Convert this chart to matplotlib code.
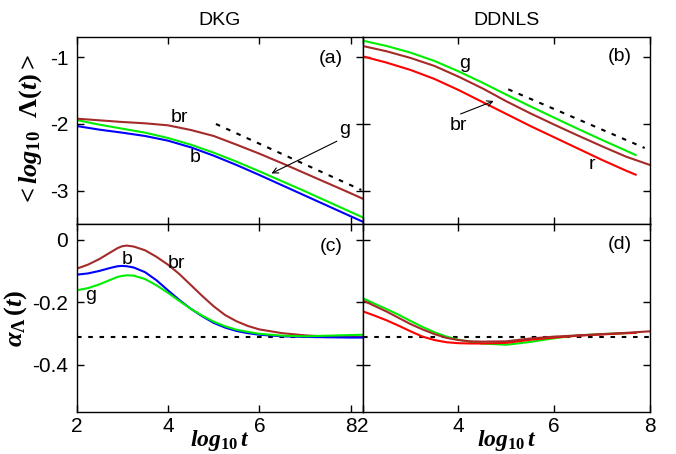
import numpy as np
import matplotlib
matplotlib.use("Agg")
from matplotlib import pyplot as plt

plt.rcParams['font.family'] = ['Liberation Sans', 'DejaVu Sans']
plt.rcParams['mathtext.fontset'] = 'custom'
plt.rcParams['mathtext.rm'] = 'Liberation Serif:bold'
plt.rcParams['mathtext.it'] = 'Liberation Serif:italic:bold'
plt.rcParams['mathtext.bf'] = 'Liberation Serif:bold'

# colours of the curves
c_br = "#a52a2a"
c_g = "#00ee00"
c_b = "#0000ff"
c_r = "#ff0000"

# ---- panel (a): DKG, <log10 Lambda(t)>
xa = [2.0, 2.5, 3.0, 3.5, 4.0, 4.5, 5.0, 5.5, 6.0, 6.5, 7.0, 7.5, 8.0, 8.26]
a_br = [-1.92, -1.945, -1.97, -1.99, -2.02, -2.09, -2.18, -2.31, -2.445, -2.59, -2.74, -2.89, -3.04, -3.12]
a_g = [-1.94, -2.01, -2.07, -2.13, -2.21, -2.31, -2.43, -2.565, -2.71, -2.86, -3.01, -3.165, -3.32, -3.40]
a_b = [-2.03, -2.085, -2.13, -2.18, -2.25, -2.35, -2.475, -2.615, -2.765, -2.92, -3.075, -3.23, -3.385, -3.465]
a_ref_x = [5.05, 8.23]
a_ref_y = [-2.0, -2.99]

# ---- panel (b): DDNLS, <log10 Lambda(t)>
xb = [2.0, 2.5, 3.0, 3.5, 4.0, 4.5, 5.0, 5.5, 6.0, 6.5, 7.0, 7.5, 7.7]
b_g = [-0.75, -0.83, -0.93, -1.055, -1.21, -1.38, -1.56, -1.735, -1.905, -2.075, -2.24, -2.40, -2.465]
b_r = [-0.985, -1.08, -1.19, -1.325, -1.49, -1.67, -1.85, -2.03, -2.20, -2.37, -2.54, -2.70, -2.76]
xb_br = [2.0, 2.5, 3.0, 3.5, 4.0, 4.5, 5.0, 5.5, 6.0, 6.5, 7.0, 7.5, 8.0]
b_br = [-0.83, -0.91, -1.01, -1.13, -1.29, -1.465, -1.66, -1.84, -2.01, -2.175, -2.335, -2.49, -2.615]
b_ref_x = [5.04, 7.89]
b_ref_y = [-1.48, -2.36]

# ---- panel (c): DKG, alpha_Lambda(t)
xc = [2.0, 2.25, 2.5, 2.75, 2.9, 3.0, 3.1, 3.25, 3.5, 3.75, 4.0, 4.25, 4.5, 4.75, 5.0, 5.25, 5.5,
      5.75, 6.0, 6.5, 7.0, 7.5, 8.0, 8.26]
c_brv = [-0.093, -0.080, -0.062, -0.040, -0.027, -0.021, -0.019, -0.022, -0.034, -0.055, -0.080,
         -0.110, -0.145, -0.180, -0.213, -0.241, -0.261, -0.276, -0.287, -0.299, -0.306, -0.310,
         -0.311, -0.311]
c_bv = [-0.112, -0.108, -0.100, -0.090, -0.085, -0.084, -0.085, -0.089, -0.104, -0.130, -0.162,
        -0.193, -0.221, -0.245, -0.266, -0.281, -0.292, -0.299, -0.304, -0.309, -0.311, -0.312,
        -0.313, -0.313]
c_gv = [-0.162, -0.155, -0.143, -0.128, -0.119, -0.116, -0.114, -0.115, -0.126, -0.146, -0.170,
        -0.196, -0.221, -0.243, -0.262, -0.277, -0.288, -0.295, -0.301, -0.307, -0.309, -0.307,
        -0.305, -0.304]
alpha_ref = -0.31

# ---- panel (d): DDNLS, alpha_Lambda(t)
xd = [2.0, 2.25, 2.5, 2.75, 3.0, 3.25, 3.5, 3.75, 4.0, 4.25, 4.5, 5.0, 5.5, 6.0, 6.5, 7.0, 7.5, 7.7]
d_g = [-0.187, -0.205, -0.222, -0.240, -0.260, -0.279, -0.296, -0.310, -0.320, -0.327, -0.332,
       -0.336, -0.327, -0.315, -0.306, -0.302, -0.299, -0.298]
d_r = [-0.229, -0.243, -0.258, -0.275, -0.293, -0.310, -0.321, -0.328, -0.331, -0.332, -0.332,
       -0.330, -0.320, -0.313, -0.307, -0.303, -0.299, -0.298]
xd_br = [2.0, 2.25, 2.5, 2.75, 3.0, 3.25, 3.5, 3.75, 4.0, 4.25, 4.5, 5.0, 5.5, 6.0, 6.5, 7.0, 7.5, 8.0]
d_br = [-0.194, -0.212, -0.230, -0.250, -0.270, -0.287, -0.302, -0.314, -0.321, -0.325, -0.326,
        -0.325, -0.316, -0.310, -0.306, -0.302, -0.298, -0.293]

xticks = [2, 4, 6, 8]
xticklabels = ["2", "4", "6", "8"]
top_yticks = [-1, -2, -3]
top_yticklabels = ["-1", "-2", "-3"]
bot_yticks = [0, -0.2, -0.4]
bot_yticklabels = ["0", "-0.2", "-0.4"]

fig = plt.figure(figsize=(6.76, 4.54), dpi=100)
W, H = 676., 454.
xl0, xl1, xr1 = 76.5, 362.7, 650.
yt0, ym, yb1 = 37.3, 224., 411.7
ax_a = fig.add_axes([xl0/W, 1-ym/H, (xl1-xl0)/W, (ym-yt0)/H])
ax_b = fig.add_axes([xl1/W, 1-ym/H, (xr1-xl1)/W, (ym-yt0)/H])
ax_c = fig.add_axes([xl0/W, 1-yb1/H, (xl1-xl0)/W, (yb1-ym)/H])
ax_d = fig.add_axes([xl1/W, 1-yb1/H, (xr1-xl1)/W, (yb1-ym)/H])

lw = 1.5
dots = (0, (2.2, 3.2))

ax_a.plot(xa, a_b, color=c_b, lw=lw)
ax_a.plot(xa, a_g, color=c_g, lw=lw)
ax_a.plot(xa, a_br, color=c_br, lw=lw)
ax_a.plot(a_ref_x, a_ref_y, color="k", lw=lw, ls=dots)

ax_b.plot(xb, b_r, color=c_r, lw=lw)
ax_b.plot(xb_br, b_br, color=c_br, lw=lw)
ax_b.plot(xb, b_g, color=c_g, lw=lw)
ax_b.plot(b_ref_x, b_ref_y, color="k", lw=lw, ls=dots)

ax_c.axhline(alpha_ref, color="k", lw=lw, ls=dots)
ax_c.plot(xc, c_brv, color=c_br, lw=lw)
ax_c.plot(xc, c_bv, color=c_b, lw=lw)
ax_c.plot(xc, c_gv, color=c_g, lw=lw)

ax_d.axhline(alpha_ref, color="k", lw=lw, ls=dots)
ax_d.plot(xd, d_g, color=c_g, lw=lw)
ax_d.plot(xd, d_r, color=c_r, lw=lw)
ax_d.plot(xd_br, d_br, color=c_br, lw=lw)

for ax in (ax_a, ax_c):
    ax.set_xlim(2, 8.26)
for ax in (ax_b, ax_d):
    ax.set_xlim(2, 8)
for ax in (ax_a, ax_b):
    ax.set_ylim(-3.5, -0.7)
    ax.set_yticks(top_yticks)
for ax in (ax_c, ax_d):
    ax.set_ylim(-0.55, 0.05)
    ax.set_yticks(bot_yticks)

for ax in (ax_a, ax_b, ax_c, ax_d):
    ax.set_xticks(xticks)
    ax.tick_params(direction="in", top=True, right=True, length=5, width=1.0,
                   labelsize=15, pad=6)
    for s in ax.spines.values():
        s.set_linewidth(1.0)

ax_a.set_yticklabels(top_yticklabels)
ax_c.set_yticklabels(bot_yticklabels)
ax_a.set_xticklabels([])
ax_b.set_xticklabels([])
ax_b.set_yticklabels([])
ax_d.set_yticklabels([])
ax_c.set_xticklabels(xticklabels)
ax_d.set_xticklabels(xticklabels)
ax_c.tick_params(axis="x", pad=4)
ax_d.tick_params(axis="x", pad=4)

ax_a.set_title("DKG", fontsize=14, pad=9)
ax_b.set_title("DDNLS", fontsize=14, pad=9)

ax_a.set_ylabel(r"$<log_{10}\ \ \Lambda(t)>$", fontsize=19, labelpad=4)
ax_c.set_ylabel(r"$\alpha_{\Lambda}\,(t)$", fontsize=19, labelpad=2)
ax_c.set_xlabel(r"$log_{10}\,t$", fontsize=17, labelpad=-6)
ax_d.set_xlabel(r"$log_{10}\,t$", fontsize=17, labelpad=-6)

fs = 14
ax_a.text(7.57, -1.02, "(a)", fontsize=fs, ha="center", va="center")
ax_b.text(7.37, -0.99, "(b)", fontsize=fs, ha="center", va="center")
ax_c.text(7.57, -0.021, "(c)", fontsize=fs, ha="center", va="center")
ax_d.text(7.37, -0.016, "(d)", fontsize=fs, ha="center", va="center")

ax_a.text(4.26, -1.91, "br", fontsize=fs, ha="center", va="center")
ax_a.text(4.59, -2.51, "b", fontsize=fs, ha="center", va="center")
ax_a.text(7.86, -2.09, "g", fontsize=fs, ha="center", va="center")
ax_a.annotate("", xy=(6.21, -2.76), xytext=(7.75, -2.24),
              arrowprops=dict(arrowstyle="->", color="k", lw=0.8))

ax_b.text(4.13, -1.09, "g", fontsize=fs, ha="center", va="center")
ax_b.text(3.99, -2.02, "br", fontsize=fs, ha="center", va="center")
ax_b.text(6.78, -2.61, "r", fontsize=fs, ha="center", va="center")
ax_b.annotate("", xy=(4.79, -1.64), xytext=(3.99, -1.865),
              arrowprops=dict(arrowstyle="->", color="k", lw=0.8))

ax_c.text(3.1, -0.064, "b", fontsize=fs, ha="center", va="center")
ax_c.text(4.19, -0.075, "br", fontsize=fs, ha="center", va="center")
ax_c.text(2.3, -0.18, "g", fontsize=fs, ha="center", va="center")

fig.savefig("out.png", dpi=100)
